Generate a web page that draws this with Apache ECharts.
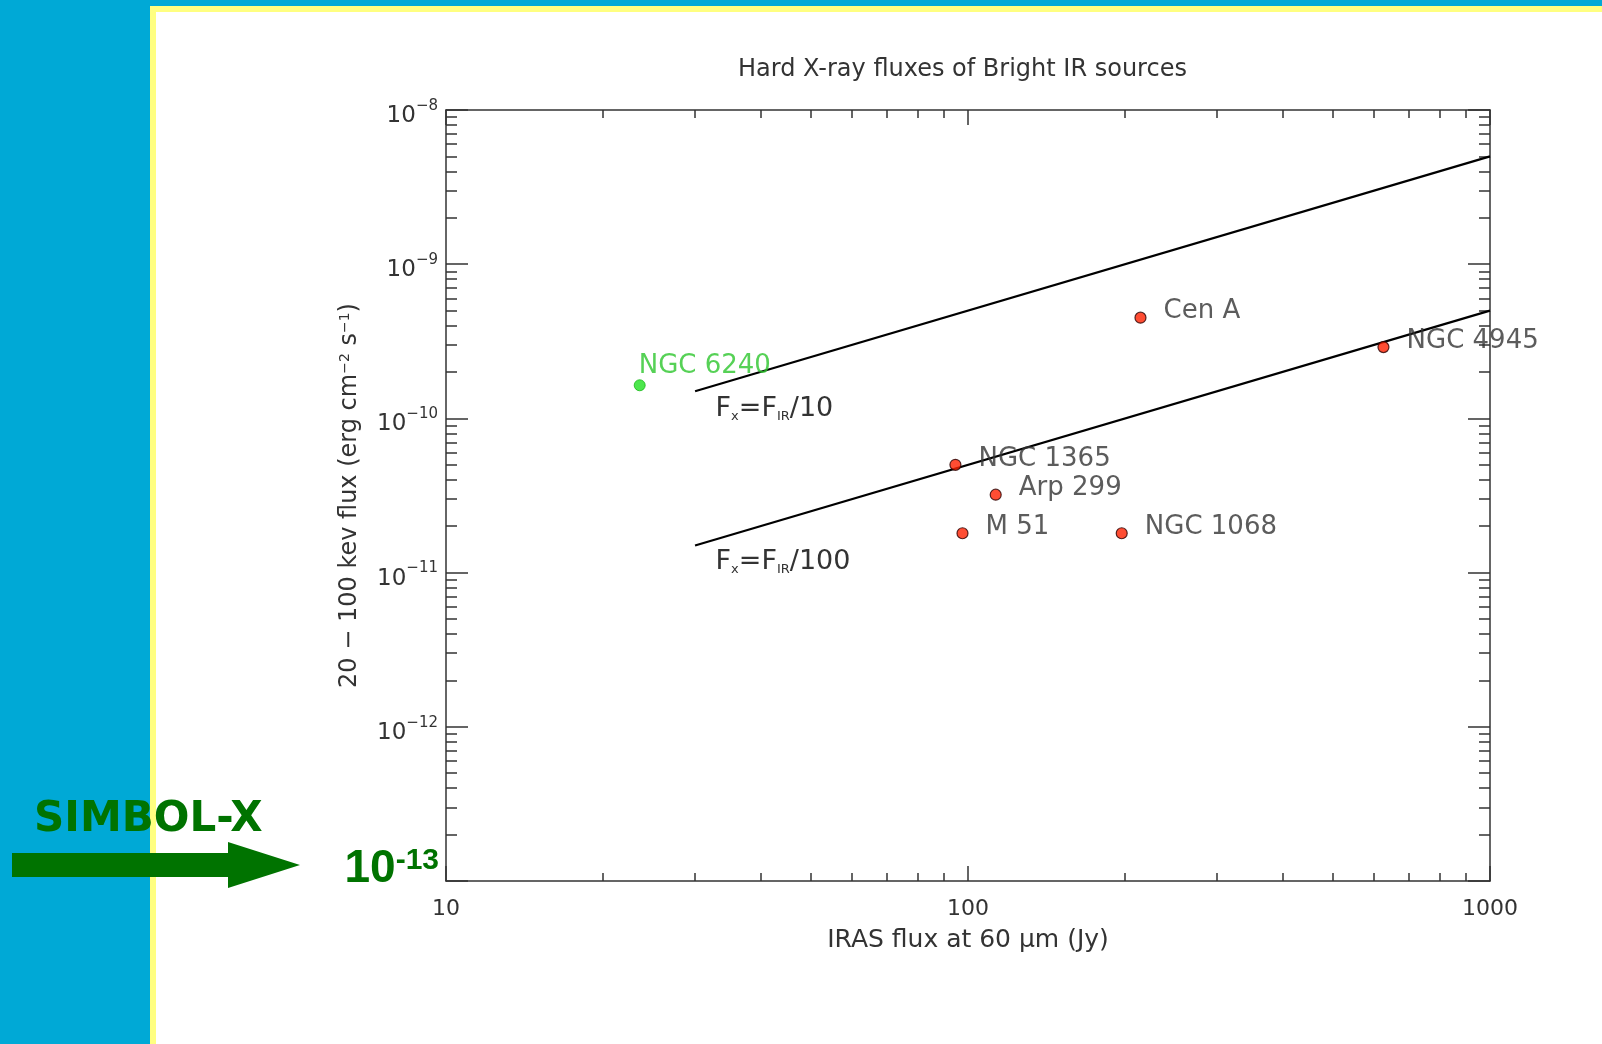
<!DOCTYPE html>
<html>
<head>
<meta charset="utf-8">
<title>Hard X-ray fluxes of Bright IR sources</title>
<script src="https://cdn.jsdelivr.net/npm/echarts@6/dist/echarts.min.js"></script>
<style>
  html, body { margin: 0; padding: 0; background: #00a9d6; overflow: hidden; }
  #frame { position: absolute; left: 150px; top: 6px; right: 0; bottom: 0; background: #ffff80; }
  #panel { position: absolute; left: 156px; top: 12px; right: 0; bottom: 0; background: #ffffff; }
  #chart { position: absolute; left: 0; top: 0; width: 1602px; height: 1044px; }
</style>
</head>
<body>
<div id="frame"></div>
<div id="panel"></div>
<div id="chart"></div>
<script>
// Bright IRAS galaxies: 60 micron flux (Jy) against 20-100 keV flux (erg cm^-2 s^-1)
const sourceNames = ['NGC 6240', 'Cen A', 'NGC 4945', 'NGC 1365', 'Arp 299', 'M 51', 'NGC 1068'];
const irasFlux    = [23.5, 214, 625, 94.6, 113, 97.6, 197];
const hardXFlux   = [1.64e-10, 4.5e-10, 2.9e-10, 5.0e-11, 3.2e-11, 1.8e-11, 1.8e-11];
const highlighted = ['NGC 6240'];

// Reference ratios Fx = F_IR/10 and Fx = F_IR/100
const ratioLineX    = [30, 1000];
const ratioTenY     = [1.5e-10, 5e-9];
const ratioHundredY = [1.5e-11, 5e-10];

// Axis ticks
const xMajorTicks = [10, 100, 1000];
const xMinorTicks = [20, 30, 40, 50, 60, 70, 80, 90, 200, 300, 400, 500, 600, 700, 800, 900];
const yMajorTicks = [1e-13, 1e-12, 1e-11, 1e-10, 1e-9, 1e-8];
const minorMantissas = [2, 3, 4, 5, 6, 7, 8, 9];
const yMinorTicks = [];
yMajorTicks.slice(0, -1).forEach(d => minorMantissas.forEach(m => yMinorTicks.push(m * d)));

const INK = '#333333';
const FONT = 'DejaVu Sans';
const GREEN = '#007300';

const axisLineStyle = { color: INK, width: 1.5 };

function xAxisDef(position, ticks, len, withLine, withLabels) {
  const ax = {
    type: 'log', logBase: 10, min: 10, max: 1000, position: position,
    axisLine: { show: withLine, onZero: false, lineStyle: axisLineStyle },
    axisTick: { show: true, inside: true, length: len, customValues: ticks, lineStyle: { color: INK, width: 1.5 } },
    axisLabel: { show: withLabels, customValues: xMajorTicks, margin: 17, color: INK,
                 fontFamily: FONT, fontSize: 22, formatter: v => String(Math.round(v)) },
    splitLine: { show: false }, minorTick: { show: false }
  };
  if (withLabels) {
    ax.name = 'IRAS flux at 60 \u03BCm (Jy)';
    ax.nameLocation = 'middle';
    ax.nameGap = 47;
    ax.nameTextStyle = { color: INK, fontFamily: FONT, fontSize: 25 };
  }
  return ax;
}

function yAxisDef(position, ticks, len, withLine, withLabels) {
  const ax = {
    type: 'log', logBase: 10, min: 1e-13, max: 1e-8, position: position,
    axisLine: { show: withLine, onZero: false, lineStyle: axisLineStyle },
    axisTick: { show: true, inside: true, length: len, customValues: ticks, lineStyle: { color: INK, width: 1.5 } },
    axisLabel: {
      show: withLabels, customValues: yMajorTicks, margin: 8, color: INK, padding: [6, 0, 0, 0],
      formatter: v => {
        const e = Math.round(Math.log10(v));
        if (e === -13) return '';
        return '{b|10}{s|\u2212' + (-e) + '}';
      },
      rich: {
        b: { fontFamily: FONT, fontSize: 23, color: INK, verticalAlign: 'bottom', padding: [6, 0, 0, 0] },
        s: { fontFamily: FONT, fontSize: 15, color: INK, verticalAlign: 'top' }
      }
    },
    splitLine: { show: false }, minorTick: { show: false }
  };
  if (withLabels) {
    ax.name = '20 \u2212 100 kev flux (erg cm{sup|\u22122} s{sup|\u22121})';
    ax.nameLocation = 'middle';
    ax.nameRotate = 90;
    ax.nameGap = 84;
    ax.nameTextStyle = {
      color: INK, fontFamily: FONT, fontSize: 24,
      rich: { sup: { fontFamily: FONT, fontSize: 14, color: INK, verticalAlign: 'top' } }
    };
  }
  return ax;
}

const scatterData = sourceNames.map((name, i) => {
  const hot = highlighted.includes(name);
  return {
    name: name,
    value: [irasFlux[i], hardXFlux[i]],
    itemStyle: hot ? { color: '#1fe01f', borderColor: '#18b818', borderWidth: 1 }
                   : { color: '#ff2000', borderColor: '#2a0000', borderWidth: 1.2 },
    label: hot ? { color: '#2cc52c', offset: [-12, -19] } : {}
  };
});

function ratioData(ys, labelText, dy) {
  return ratioLineX.map((x, i) => ({
    value: [x, ys[i]],
    label: i === 0 ? {
      show: true, position: 'right', distance: 5, offset: [15, dy],
      formatter: labelText,
      color: INK, fontFamily: FONT, fontSize: 27,
      rich: { sub: { fontFamily: FONT, fontSize: 13, color: INK, verticalAlign: 'bottom', padding: [13, 0, 0, 0] } }
    } : { show: false }
  }));
}

function ratioSeries(name, ys, labelText, dy) {
  return {
    name: name, type: 'line', xAxisIndex: 0, yAxisIndex: 0,
    showSymbol: true, symbol: 'circle', symbolSize: 1, silent: true, z: 3,
    itemStyle: { color: 'rgba(0,0,0,0)' },
    lineStyle: { color: '#000000', width: 2.2 },
    emphasis: { disabled: true },
    data: ratioData(ys, labelText, dy)
  };
}

const chart = echarts.init(document.getElementById('chart'), null, { renderer: 'canvas' });

chart.setOption({
  backgroundColor: 'transparent',
  animation: false,
  title: {
    text: 'Hard X-ray fluxes of Bright IR sources',
    left: 738, top: 58, padding: 0,
    textStyle: { color: INK, fontFamily: FONT, fontSize: 24, fontWeight: 'normal' }
  },
  grid: { left: 446, right: 112, top: 110, bottom: 163, containLabel: false },
  xAxis: [
    xAxisDef('bottom', xMajorTicks, 15, true, true),
    xAxisDef('bottom', xMinorTicks, 8, false, false),
    xAxisDef('top', xMajorTicks, 15, true, false),
    xAxisDef('top', xMinorTicks, 8, false, false)
  ],
  yAxis: [
    yAxisDef('left', yMajorTicks, 22, true, true),
    yAxisDef('left', yMinorTicks, 11, false, false),
    yAxisDef('right', yMajorTicks, 22, true, false),
    yAxisDef('right', yMinorTicks, 11, false, false)
  ],
  series: [
    ratioSeries('Fx = F_IR/10', ratioTenY, 'F{sub|x}=F{sub|IR}/10', 18),
    ratioSeries('Fx = F_IR/100', ratioHundredY, 'F{sub|x}=F{sub|IR}/100', 17),
    {
      name: 'sources', type: 'scatter', xAxisIndex: 0, yAxisIndex: 0,
      symbol: 'circle', symbolSize: 11, z: 4,
      label: {
        show: true, position: 'right', distance: 5, offset: [12, -6],
        formatter: '{b}', color: INK, fontFamily: FONT, fontSize: 26
      },
      data: scatterData
    }
  ]
});

// SIMBOL-X sensitivity marker pointing at the 1e-13 end of the flux axis
const floorPx = chart.convertToPixel({ xAxisIndex: 0, yAxisIndex: 0 }, [10, yMajorTicks[0]]);
const ax0 = floorPx[0], ay0 = floorPx[1];
chart.setOption({
  graphic: [
    {
      type: 'polygon', silent: true,
      shape: { points: [
        [12, ay0 - 28], [228, ay0 - 28], [228, ay0 - 39], [300, ay0 - 16],
        [228, ay0 + 7], [228, ay0 - 4], [12, ay0 - 4]
      ] },
      style: { fill: GREEN }
    },
    {
      type: 'text', silent: true, x: 34, y: ay0 - 61,
      style: {
        text: 'SIMBOL-X', fill: GREEN, font: 'bold 42px "DejaVu Sans"',
        textVerticalAlign: 'middle', textAlign: 'left'
      }
    },
    {
      type: 'text', silent: true, x: ax0 - 7, y: ay0 - 12,
      style: {
        text: '{g|10}{e|-13}', textAlign: 'right', textVerticalAlign: 'middle',
        rich: {
          g: { fill: GREEN, fontFamily: 'Liberation Sans', fontWeight: 'bold', fontSize: 46, verticalAlign: 'bottom' },
          e: { fill: GREEN, fontFamily: 'Liberation Sans', fontWeight: 'bold', fontSize: 30, verticalAlign: 'top' }
        }
      }
    }
  ]
});
</script>
</body>
</html>
